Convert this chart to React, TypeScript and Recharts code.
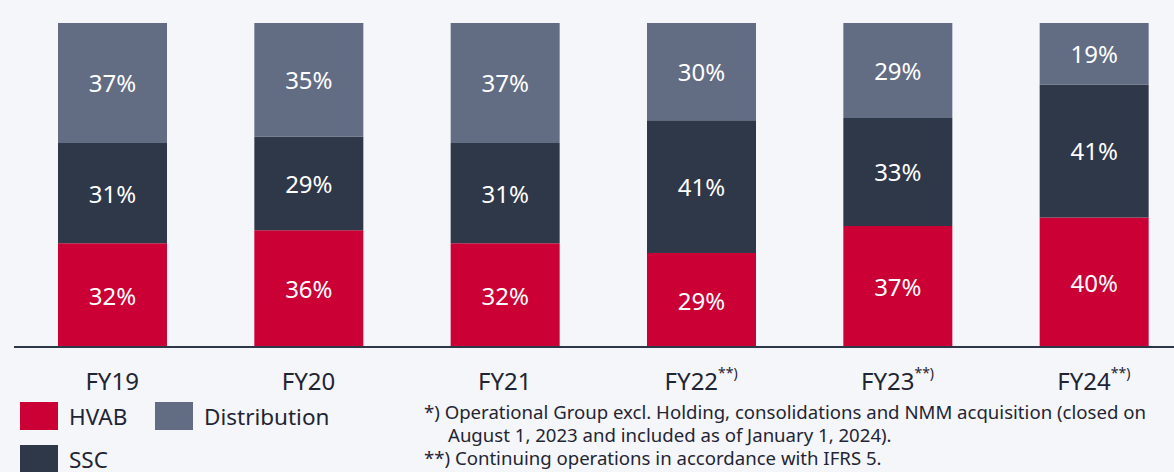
import React from 'react';
import { BarChart, Bar, XAxis, YAxis, LabelList } from 'recharts';

const categories = ['FY19', 'FY20', 'FY21', 'FY22', 'FY23', 'FY24'];
const superscripts = ['', '', '', '**)', '**)', '**)'];
const hvab = [32, 36, 32, 29, 37, 40];
const ssc = [31, 29, 31, 41, 33, 41];
const distribution = [37, 35, 37, 30, 29, 19];

const data = categories.map((name, i) => ({
  name,
  HVAB: hvab[i],
  SSC: ssc[i],
  Distribution: distribution[i],
}));

const COLORS = { HVAB: '#cb0035', SSC: '#2f3849', Distribution: '#626d84' };
const FONT = '"Noto Sans", sans-serif';
const BG = '#f5f6fa';

const makeLabel = (arr: number[]) => (props: any) => {
  const vb = props.viewBox && props.viewBox.width !== undefined ? props.viewBox : props;
  const { x, y, width, height } = vb;
  const idx = props.index;
  if (x === undefined || idx === undefined) return null;
  return (
    <text
      x={x + width / 2}
      y={y + height / 2}
      textAnchor="middle"
      dominantBaseline="central"
      fill="#ffffff"
      fontSize={24}
      fontFamily={FONT}
    >
      {arr[idx] + '%'}
    </text>
  );
};

const Tick = (props: any) => {
  const { x, y, payload } = props;
  const i = categories.indexOf(payload.value);
  const sup = superscripts[i] || '';
  return (
    <g transform={`translate(${x},${y})`}>
      <text x={0} y={35} textAnchor="middle" fill="#1f2533" fontSize={24} fontFamily={FONT}>
        <tspan>{payload.value}</tspan>
        {sup ? (
          <tspan fontSize={14} dy={-12}>{sup}</tspan>
        ) : null}
      </text>
    </g>
  );
};

export default function App() {
  return (
    <div
      style={{
        position: 'absolute',
        left: 0,
        top: 0,
        width: 1174,
        height: 472,
        overflow: 'hidden',
        background: BG,
        fontFamily: FONT,
      }}
    >
      <BarChart
        width={1192}
        height={400}
        data={data}
        stackOffset="expand"
        margin={{ top: 23, right: 0, left: 14, bottom: 0 }}
      >
        <XAxis
          dataKey="name"
          tickLine={false}
          axisLine={{ stroke: '#2e3748', strokeWidth: 2 }}
          height={53}
          tick={<Tick />}
          interval={0}
        />
        <YAxis hide domain={[0, 1]} />
        <Bar dataKey="HVAB" stackId="a" fill={COLORS.HVAB} barSize={109} isAnimationActive={false}>
          <LabelList dataKey="HVAB" content={makeLabel(hvab)} />
        </Bar>
        <Bar dataKey="SSC" stackId="a" fill={COLORS.SSC} barSize={109} isAnimationActive={false}>
          <LabelList dataKey="SSC" content={makeLabel(ssc)} />
        </Bar>
        <Bar dataKey="Distribution" stackId="a" fill={COLORS.Distribution} barSize={109} isAnimationActive={false}>
          <LabelList dataKey="Distribution" content={makeLabel(distribution)} />
        </Bar>
      </BarChart>
      <svg
        width={1174}
        height={472}
        style={{ position: 'absolute', left: 0, top: 0, pointerEvents: 'none' }}
      >
        <rect x={20} y={402} width={38} height={28} fill={COLORS.HVAB} />
        <text x={69} y={425} fontSize={22.5} fill="#1f2533" fontFamily={FONT}>HVAB</text>
        <rect x={155} y={402} width={38} height={28} fill={COLORS.Distribution} />
        <text x={204} y={425} fontSize={22.5} fill="#1f2533" fontFamily={FONT}>Distribution</text>
        <rect x={20} y={445} width={38} height={28} fill={COLORS.SSC} />
        <text x={69} y={468} fontSize={22.5} fill="#1f2533" fontFamily={FONT}>SSC</text>
        <g fontSize={18.6} fill="#1f2533" fontFamily={FONT}>
          <text x={424} y={419}>*) Operational Group excl. Holding, consolidations and NMM acquisition (closed on</text>
          <text x={448} y={442}>August 1, 2023 and included as of January 1, 2024).</text>
          <text x={424} y={465}>**) Continuing operations in accordance with IFRS 5.</text>
        </g>
      </svg>
    </div>
  );
}
